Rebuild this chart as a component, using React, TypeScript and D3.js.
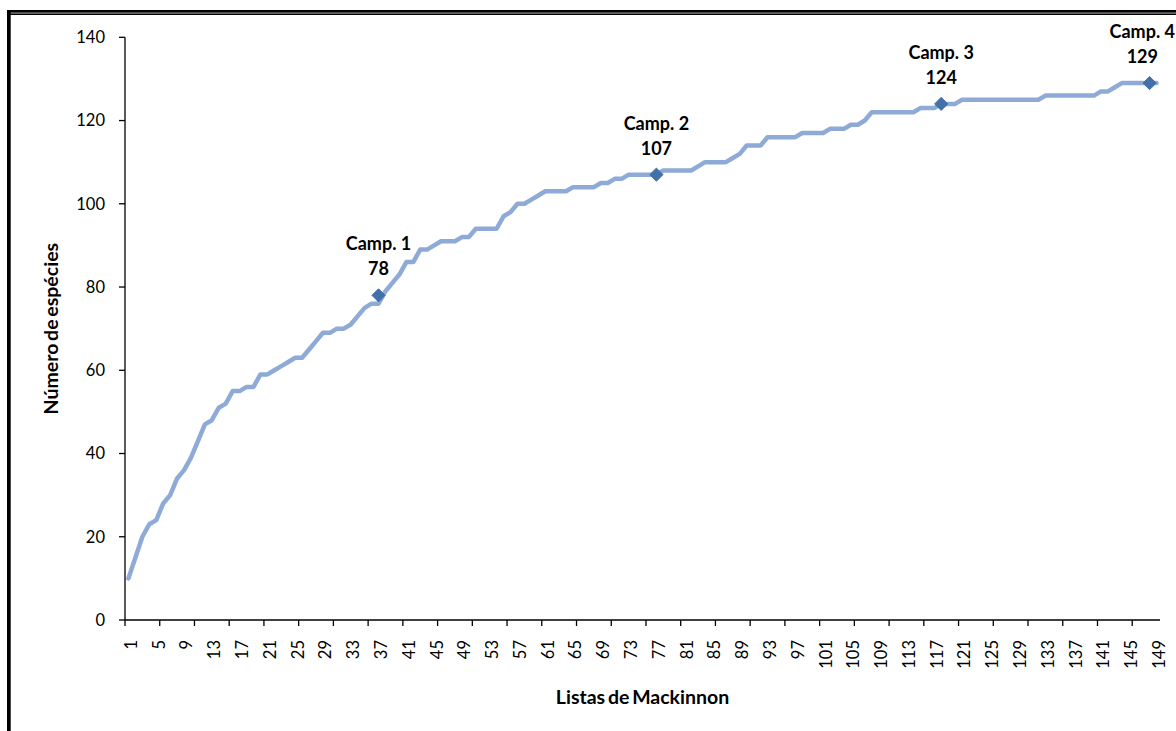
import React, { useEffect, useRef } from "react";
import * as d3 from "d3";

// Cumulative species count after each Mackinnon list (lists 1..149)
const speciesCounts: number[] = [
  10, 15, 20, 23, 24, 28, 30, 34, 36, 39,
  43, 47, 48, 51, 52, 55, 55, 56, 56, 59,
  59, 60, 61, 62, 63, 63, 65, 67, 69, 69,
  70, 70, 71, 73, 75, 76, 76, 79, 81, 83,
  86, 86, 89, 89, 90, 91, 91, 91, 92, 92,
  94, 94, 94, 94, 97, 98, 100, 100, 101, 102,
  103, 103, 103, 103, 104, 104, 104, 104, 105, 105,
  106, 106, 107, 107, 107, 107, 107, 108, 108, 108,
  108, 108, 109, 110, 110, 110, 110, 111, 112, 114,
  114, 114, 116, 116, 116, 116, 116, 117, 117, 117,
  117, 118, 118, 118, 119, 119, 120, 122, 122, 122,
  122, 122, 122, 122, 123, 123, 123, 124, 124, 124,
  125, 125, 125, 125, 125, 125, 125, 125, 125, 125,
  125, 125, 126, 126, 126, 126, 126, 126, 126, 126,
  127, 127, 128, 129, 129, 129, 129, 129, 129,
];

// List numbers (categories on the x axis)
const listNumbers: number[] = speciesCounts.map((_, i) => i + 1);

// Campaign milestones
const campNames: string[] = ["Camp. 1", "Camp. 2", "Camp. 3", "Camp. 4"];
const campLists: number[] = [37, 77, 118, 148];
const campCounts: number[] = [78, 107, 124, 129];

const yTicks: number[] = [0, 20, 40, 60, 80, 100, 120, 140];
const xLabelEvery = 4;
const xTickEvery = 5;

const W = 1176;
const H = 731;
const plot = { left: 125, right: 1160, top: 37.3, bottom: 620 };

const FONT = "Lato, 'Open Sans', sans-serif";
const LINE_COLOR = "#8eaad6";
const MARKER_COLOR = "#4270a8";

export default function App() {
  const ref = useRef<SVGSVGElement | null>(null);

  useEffect(() => {
    const svg = d3.select(ref.current);
    svg.selectAll("*").remove();

    svg.append("rect").attr("width", W).attr("height", H).attr("fill", "#fff");

    // outer frame (top double rule + left rule)
    svg.append("rect").attr("x", 7).attr("y", 10).attr("width", W - 7).attr("height", 2.7).attr("fill", "#000");
    svg.append("rect").attr("x", 7).attr("y", 13.4).attr("width", W - 7).attr("height", 1.6).attr("fill", "#000");
    svg.append("rect").attr("x", 7).attr("y", 10).attr("width", 3.7).attr("height", H - 10).attr("fill", "#000");

    const x = d3
      .scaleBand<number>()
      .domain(listNumbers)
      .range([plot.left, plot.right])
      .paddingInner(0)
      .paddingOuter(0);
    const bw = x.bandwidth();
    const cx = (c: number) => (x(c) as number) + bw / 2;

    const y = d3.scaleLinear().domain([0, 140]).range([plot.bottom, plot.top]);

    // y axis
    const yAxis = svg.append("g");
    yAxis
      .append("line")
      .attr("x1", plot.left)
      .attr("x2", plot.left)
      .attr("y1", y(0))
      .attr("y2", y(140))
      .attr("stroke", "#000")
      .attr("stroke-width", 1.3);
    yTicks.forEach((t) => {
      yAxis
        .append("line")
        .attr("x1", plot.left - 6)
        .attr("x2", plot.left)
        .attr("y1", y(t))
        .attr("y2", y(t))
        .attr("stroke", "#000")
        .attr("stroke-width", 1.3);
      yAxis
        .append("text")
        .attr("x", 105)
        .attr("y", y(t))
        .attr("dy", "0.36em")
        .attr("text-anchor", "end")
        .attr("font-family", FONT)
        .attr("font-size", 16.5)
        .attr("fill", "#000")
        .text(String(t));
    });

    // x axis
    const xAxis = svg.append("g");
    xAxis
      .append("line")
      .attr("x1", plot.left)
      .attr("x2", plot.right)
      .attr("y1", plot.bottom)
      .attr("y2", plot.bottom)
      .attr("stroke", "#000")
      .attr("stroke-width", 1.3);
    listNumbers
      .filter((c) => (c - 1) % xTickEvery === 0)
      .forEach((c) => {
        const px = x(c) as number;
        xAxis
          .append("line")
          .attr("x1", px)
          .attr("x2", px)
          .attr("y1", plot.bottom)
          .attr("y2", plot.bottom + 6)
          .attr("stroke", "#000")
          .attr("stroke-width", 1.3);
      });
    listNumbers
      .filter((c) => (c - 1) % xLabelEvery === 0)
      .forEach((c) => {
        const px = cx(c) + 2.5;
        const py = 640;
        xAxis
          .append("text")
          .attr("transform", `translate(${px},${py}) rotate(-90)`)
          .attr("dy", "0.36em")
          .attr("text-anchor", "end")
          .attr("font-family", FONT)
          .attr("font-size", 16.5)
          .attr("fill", "#000")
          .text(String(c));
      });

    // axis titles
    svg
      .append("text")
      .attr("transform", `translate(58,${(plot.top + plot.bottom) / 2}) rotate(-90)`)
      .attr("text-anchor", "middle")
      .attr("font-family", FONT)
      .attr("font-weight", 700)
      .attr("font-size", 19.5)
      .attr("word-spacing", -2)
      .attr("fill", "#000")
      .text("Número de espécies");
    svg
      .append("text")
      .attr("x", (plot.left + plot.right) / 2)
      .attr("y", 704)
      .attr("text-anchor", "middle")
      .attr("font-family", FONT)
      .attr("font-weight", 700)
      .attr("font-size", 19.5)
      .attr("word-spacing", -2)
      .attr("fill", "#000")
      .text("Listas de Mackinnon");

    // accumulation curve
    const line = d3
      .line<number>()
      .x((_, i) => cx(listNumbers[i]))
      .y((d) => y(d));
    svg
      .append("path")
      .datum(speciesCounts)
      .attr("d", line)
      .attr("fill", "none")
      .attr("stroke", LINE_COLOR)
      .attr("stroke-width", 4.5)
      .attr("stroke-linejoin", "round")
      .attr("stroke-linecap", "round");

    // campaign markers and labels
    const diamond = d3.symbol().type(d3.symbolDiamond2).size(110);
    campLists.forEach((c, i) => {
      const mx = cx(c);
      const my = y(campCounts[i]);
      svg
        .append("path")
        .attr("d", diamond() as string)
        .attr("transform", `translate(${mx},${my})`)
        .attr("fill", MARKER_COLOR)
        .attr("stroke", MARKER_COLOR)
        .attr("stroke-width", 1);

      const g = svg.append("g").attr("transform", `translate(${mx},0)`);
      g.append("text")
        .attr("x", 0)
        .attr("y", my - 45)
        .attr("text-anchor", "middle")
        .attr("font-family", FONT)
        .attr("font-weight", 700)
        .attr("font-size", 18)
        .attr("fill", "#000")
        .text(campNames[i]);
      g.append("text")
        .attr("x", 0)
        .attr("y", my - 20)
        .attr("text-anchor", "middle")
        .attr("font-family", FONT)
        .attr("font-weight", 700)
        .attr("font-size", 18)
        .attr("fill", "#000")
        .text(String(campCounts[i]));

      // keep labels inside the chart area
      const node = g.node() as SVGGElement;
      const bb = node.getBBox();
      const rightEdge = mx + bb.x + bb.width;
      if (rightEdge > W - 1) {
        g.attr("transform", `translate(${mx - (rightEdge - (W - 1))},0)`);
      }
    });
  }, []);

  return (
    <svg
      ref={ref}
      width={W}
      height={H}
      style={{ position: "absolute", left: 0, top: 0, display: "block" }}
    />
  );
}
